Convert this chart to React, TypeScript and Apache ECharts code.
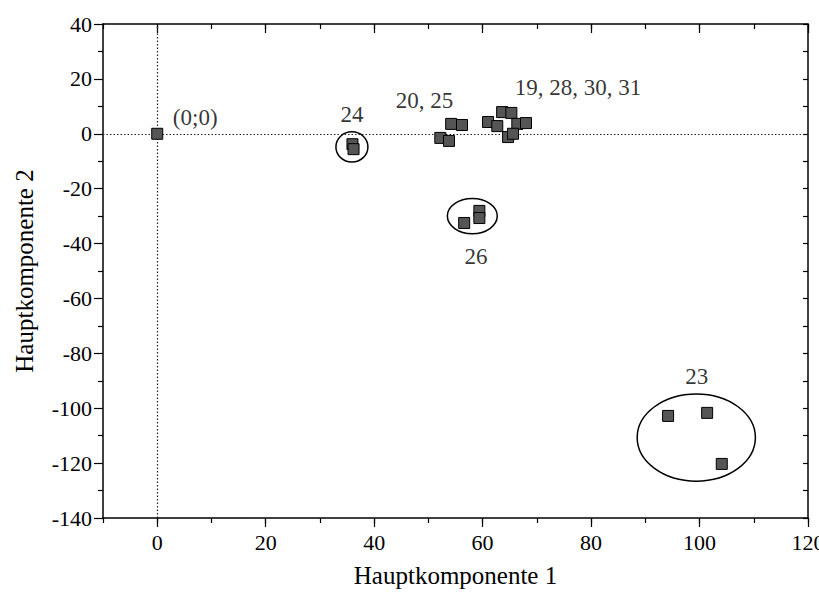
import React, { useEffect, useRef } from "react";
import * as echarts from "echarts";

// Sample scores (Hauptkomponente 1, Hauptkomponente 2)
const origin: number[][] = [[0, 0]];
const sample24: number[][] = [[36.0, -3.8], [36.2, -5.6]];
const sample2025: number[][] = [[52.2, -1.5], [53.8, -2.6], [54.2, 3.6], [56.2, 3.2]];
const sample19283031: number[][] = [
  [61.0, 4.3], [63.6, 7.9], [65.3, 7.6], [66.4, 3.6], [62.7, 2.8], [64.7, -1.2], [65.6, 0.0], [68.0, 3.9],
];
const sample26: number[][] = [[56.6, -32.5], [59.4, -28.1], [59.4, -30.7]];
const sample23: number[][] = [[94.2, -102.8], [101.4, -101.7], [104.1, -120.3]];

// Group annotations: [centerX, centerY, radiusX, radiusY] in data units
const groupEllipses: number[][] = [
  [35.9, -4.8, 2.95, 5.5],
  [58.1, -30.0, 4.6, 6.4],
  [99.4, -110.7, 10.9, 15.9],
];

// Group labels
const groupLabelNames: string[] = ["(0;0)", "24", "20, 25", "19, 28, 30, 31", "26", "23"];
const groupLabelPos: number[][] = [
  [7.0, 5.8], [35.9, 6.9], [49.3, 12.3], [77.6, 16.7], [58.8, -44.6], [99.5, -88.6],
];

const xMajorTicks: number[] = [0, 20, 40, 60, 80, 100, 120];
const xMin = -10, xMax = 120;
const yMin = -140, yMax = 40;

const FONT = "'Liberation Serif', 'Times New Roman', serif";

export default function App() {
  const ref = useRef<HTMLDivElement>(null);
  useEffect(() => {
    if (!ref.current) return;
    const chart = echarts.init(ref.current, undefined, { renderer: "svg" });
    const allPoints = [
      ...origin, ...sample24, ...sample2025, ...sample19283031, ...sample26, ...sample23,
    ];
    const lineStyle = { color: "#000", width: 1.5 };
    const tickStyle = { color: "#000", width: 1.2 };
    const baseX = { type: "value", min: xMin, max: xMax, splitLine: { show: false } };
    chart.setOption({
      animation: false,
      backgroundColor: "#fff",
      grid: { left: 103, right: 11, top: 24, bottom: 78, containLabel: false, outerBoundsMode: "none" },
      xAxis: [
        {
          ...baseX,
          position: "bottom",
          interval: 10,
          axisLine: { show: true, onZero: false, lineStyle },
          axisTick: { show: true, length: 5, lineStyle: tickStyle },
          axisLabel: { show: false },
          name: "Hauptkomponente 1",
          nameLocation: "middle",
          nameGap: 45,
          nameTextStyle: { fontFamily: FONT, fontSize: 25, color: "#000" },
        },
        {
          ...baseX,
          position: "bottom",
          axisLine: { show: false, onZero: false },
          axisTick: { show: true, length: 9, customValues: xMajorTicks, lineStyle: tickStyle },
          axisLabel: {
            show: true, customValues: xMajorTicks, margin: 13,
            fontFamily: FONT, fontSize: 22, color: "#000",
          },
        },
        {
          ...baseX,
          position: "top",
          interval: 10,
          axisLine: { show: true, onZero: false, lineStyle },
          axisTick: { show: true, inside: true, length: 5, lineStyle: tickStyle },
          axisLabel: { show: false },
        },
        {
          ...baseX,
          position: "top",
          axisLine: { show: false, onZero: false },
          axisTick: { show: true, inside: true, length: 9, customValues: xMajorTicks, lineStyle: tickStyle },
          axisLabel: { show: false },
        },
      ],
      yAxis: [
        {
          type: "value", position: "left", min: yMin, max: yMax, interval: 20,
          splitLine: { show: false },
          axisLine: { show: true, onZero: false, lineStyle },
          axisTick: { show: true, length: 9, lineStyle: tickStyle },
          minorTick: { show: true, splitNumber: 2, length: 5, lineStyle: tickStyle },
          axisLabel: { margin: 11, fontFamily: FONT, fontSize: 22, color: "#000" },
          name: "Hauptkomponente 2",
          nameLocation: "middle",
          nameGap: 66,
          nameTextStyle: { fontFamily: FONT, fontSize: 25, color: "#000" },
        },
        {
          type: "value", position: "right", min: yMin, max: yMax, interval: 20,
          splitLine: { show: false },
          axisLine: { show: true, onZero: false, lineStyle },
          axisTick: { show: true, inside: true, length: 5, lineStyle: tickStyle },
          minorTick: { show: true, splitNumber: 2, length: 5, lineStyle: tickStyle },
          axisLabel: { show: false },
        },
      ],
      series: [
        {
          type: "scatter",
          xAxisIndex: 0,
          yAxisIndex: 0,
          symbol: "rect",
          symbolSize: 11,
          data: allPoints,
          itemStyle: { color: "#555", borderColor: "#000", borderWidth: 1, opacity: 1 },
          z: 5,
          markLine: {
            silent: true,
            symbol: "none",
            label: { show: false },
            lineStyle: { color: "#222", width: 1.2, type: [1.5, 2] },
            data: [{ yAxis: 0 }, { xAxis: 0 }],
          },
        },
        {
          type: "custom",
          xAxisIndex: 0,
          yAxisIndex: 0,
          data: groupEllipses,
          encode: { x: 0, y: 1 },
          z: 4,
          renderItem: (params: any, api: any) => {
            const c = api.coord([api.value(0), api.value(1)]);
            const s = api.size([api.value(2), api.value(3)]);
            return {
              type: "ellipse",
              shape: { cx: c[0], cy: c[1], rx: s[0], ry: s[1] },
              style: { fill: "none", stroke: "#000", lineWidth: 1.5 },
            };
          },
        },
        {
          type: "scatter",
          xAxisIndex: 0,
          yAxisIndex: 0,
          symbolSize: 0,
          silent: true,
          data: groupLabelPos.map((p, i) => ({ value: p, name: groupLabelNames[i] })),
          label: {
            show: true,
            position: "inside",
            formatter: "{b}",
            fontFamily: FONT,
            fontSize: 23,
            color: "#000",
          },
          z: 6,
        },
      ],
    });
    return () => chart.dispose();
  }, []);
  return (
    <div
      ref={ref}
      style={{ position: "absolute", left: 0, top: 0, width: 819, height: 596, background: "#fff" }}
    />
  );
}
